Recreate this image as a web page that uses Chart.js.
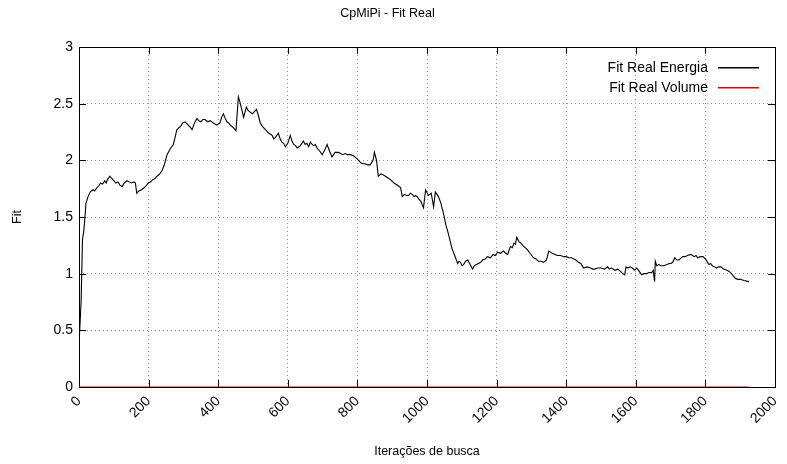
<!DOCTYPE html>
<html>
<head>
<meta charset="utf-8">
<script src="https://cdn.jsdelivr.net/npm/chart.js@4/dist/chart.umd.min.js"></script>
<style>
  html, body { margin: 0; padding: 0; background: #fff; }
  #wrap { width: 787px; height: 464px; }
</style>
</head>
<body>
<div id="wrap"><canvas id="myChart" width="787" height="464"></canvas></div>
<script>
// Values
const energiaIters = [0, 6, 10, 13, 16, 20, 26, 32, 40, 45, 52, 58, 62, 68, 74, 78, 82, 89, 94, 100, 106, 112, 118, 124, 130, 138, 144, 150, 158, 162, 166, 172, 180, 188, 194, 199, 206, 212, 218, 224, 232, 239, 246, 253, 262, 271, 276, 281, 288, 292, 298, 305, 314, 320, 325, 332, 339, 344, 350, 356, 362, 370, 377, 386, 396, 405, 410, 415, 420, 425, 430, 435, 443, 451, 458, 462, 466, 473, 481, 486, 490, 498, 504, 510, 515, 521, 527, 533, 539, 545, 550, 555, 560, 564, 573, 578, 583, 588, 593, 600, 607, 612, 617, 622, 627, 636, 645, 650, 655, 660, 665, 670, 674, 679, 684, 692, 699, 706, 713, 720, 727, 736, 745, 752, 758, 765, 771, 780, 789, 800, 809, 815, 822, 830, 837, 845, 849, 855, 860, 868, 875, 885, 895, 905, 915, 924, 929, 935, 941, 947, 952, 958, 963, 967, 972, 976, 982, 990, 996, 1004, 1012, 1019, 1024, 1033, 1040, 1048, 1055, 1059, 1064, 1068, 1072, 1076, 1082, 1088, 1092, 1096, 1101, 1105, 1111, 1117, 1124, 1131, 1136, 1142, 1148, 1154, 1160, 1167, 1174, 1182, 1190, 1196, 1203, 1211, 1220, 1226, 1232, 1236, 1240, 1245, 1250, 1254, 1258, 1265, 1270, 1275, 1282, 1289, 1296, 1306, 1313, 1320, 1328, 1335, 1343, 1350, 1355, 1360, 1368, 1375, 1384, 1393, 1400, 1408, 1415, 1422, 1428, 1435, 1442, 1450, 1460, 1470, 1476, 1482, 1490, 1500, 1510, 1519, 1524, 1530, 1535, 1540, 1548, 1556, 1562, 1568, 1572, 1577, 1584, 1590, 1597, 1603, 1610, 1617, 1624, 1630, 1638, 1646, 1650, 1654, 1656, 1660, 1666, 1671, 1680, 1690, 1696, 1701, 1706, 1712, 1718, 1724, 1730, 1735, 1742, 1748, 1758, 1763, 1768, 1773, 1778, 1786, 1793, 1800, 1810, 1815, 1820, 1826, 1832, 1838, 1845, 1852, 1862, 1868, 1875, 1880, 1886, 1893, 1900, 1911, 1925];
const energiaFit = [0.37, 0.75, 1.30, 1.36, 1.45, 1.62, 1.68, 1.72, 1.74, 1.73, 1.76, 1.78, 1.80, 1.79, 1.82, 1.80, 1.83, 1.86, 1.84, 1.82, 1.80, 1.81, 1.78, 1.77, 1.80, 1.82, 1.81, 1.80, 1.81, 1.80, 1.71, 1.73, 1.74, 1.76, 1.78, 1.80, 1.81, 1.83, 1.84, 1.86, 1.88, 1.91, 1.97, 2.05, 2.10, 2.14, 2.20, 2.27, 2.29, 2.30, 2.33, 2.34, 2.31, 2.29, 2.27, 2.33, 2.37, 2.35, 2.34, 2.36, 2.36, 2.34, 2.35, 2.33, 2.31, 2.33, 2.38, 2.41, 2.37, 2.34, 2.33, 2.31, 2.29, 2.26, 2.56, 2.52, 2.47, 2.38, 2.47, 2.44, 2.43, 2.41, 2.43, 2.45, 2.40, 2.33, 2.30, 2.28, 2.26, 2.24, 2.23, 2.22, 2.19, 2.20, 2.24, 2.19, 2.16, 2.15, 2.12, 2.15, 2.22, 2.17, 2.14, 2.13, 2.11, 2.13, 2.17, 2.14, 2.15, 2.12, 2.16, 2.14, 2.13, 2.14, 2.11, 2.08, 2.05, 2.09, 2.14, 2.08, 2.03, 2.07, 2.07, 2.06, 2.05, 2.06, 2.05, 2.05, 2.04, 2.01, 1.98, 1.97, 1.97, 1.96, 1.96, 2.00, 2.07, 2.00, 1.86, 1.88, 1.87, 1.85, 1.83, 1.80, 1.78, 1.76, 1.68, 1.70, 1.69, 1.69, 1.71, 1.70, 1.68, 1.69, 1.68, 1.66, 1.64, 1.58, 1.74, 1.69, 1.71, 1.59, 1.72, 1.68, 1.62, 1.52, 1.42, 1.38, 1.32, 1.27, 1.22, 1.19, 1.14, 1.09, 1.11, 1.10, 1.07, 1.08, 1.11, 1.12, 1.08, 1.04, 1.07, 1.08, 1.09, 1.10, 1.12, 1.13, 1.15, 1.14, 1.17, 1.16, 1.19, 1.18, 1.20, 1.18, 1.17, 1.21, 1.24, 1.23, 1.27, 1.26, 1.32, 1.28, 1.27, 1.25, 1.23, 1.21, 1.18, 1.14, 1.13, 1.11, 1.11, 1.10, 1.12, 1.20, 1.19, 1.18, 1.17, 1.16, 1.16, 1.15, 1.15, 1.14, 1.14, 1.13, 1.12, 1.10, 1.09, 1.05, 1.06, 1.05, 1.04, 1.04, 1.05, 1.05, 1.04, 1.06, 1.04, 1.05, 1.04, 1.03, 1.04, 1.02, 1.00, 0.99, 1.06, 1.05, 1.06, 1.05, 1.03, 1.05, 1.02, 0.99, 1.00, 1.00, 1.01, 1.01, 1.03, 0.93, 1.11, 1.07, 1.08, 1.07, 1.07, 1.08, 1.09, 1.09, 1.10, 1.14, 1.12, 1.12, 1.14, 1.15, 1.15, 1.16, 1.17, 1.16, 1.15, 1.16, 1.14, 1.15, 1.15, 1.13, 1.08, 1.09, 1.07, 1.06, 1.05, 1.06, 1.06, 1.04, 1.03, 1.02, 1.00, 0.98, 0.96, 0.95, 0.95, 0.94, 0.93];

const volumeIters = [0, 1925];
const volumeFit = [0, 0];

const seriesNames = ['Fit Real Energia', 'Fit Real Volume'];
const seriesColors = ['#000000', '#e00000'];

const xTicks = [0, 200, 400, 600, 800, 1000, 1200, 1400, 1600, 1800, 2000];
const yTicks = [0, 0.5, 1, 1.5, 2, 2.5, 3];

const FONT = '"Liberation Sans", Arial, Helvetica, sans-serif';
Chart.defaults.font.family = FONT;
Chart.defaults.font.size = 14;
Chart.defaults.color = '#000';

// frame, inward ticks and legend like gnuplot
const framePlugin = {
    id: 'frame',
    beforeDatasetsDraw(chart) {
        const { ctx, chartArea: a, scales } = chart;
        ctx.save();
        ctx.strokeStyle = '#000';
        ctx.lineWidth = 1;
        ctx.beginPath();
        xTicks.forEach(v => {
            const px = Math.round(scales.x.getPixelForValue(v)) + 0.5;
            ctx.moveTo(px, a.bottom); ctx.lineTo(px, a.bottom - 7);
            ctx.moveTo(px, a.top); ctx.lineTo(px, a.top + 7);
        });
        yTicks.forEach(v => {
            const py = Math.round(scales.y.getPixelForValue(v)) + 0.5;
            ctx.moveTo(a.left, py); ctx.lineTo(a.left + 7, py);
            ctx.moveTo(a.right, py); ctx.lineTo(a.right - 7, py);
        });
        ctx.stroke();
        ctx.strokeRect(Math.round(a.left) + 0.5, Math.round(a.top) + 0.5,
            Math.round(a.right - a.left), Math.round(a.bottom - a.top));
        ctx.restore();
    },
    afterDraw(chart) {
        const { ctx, chartArea: a } = chart;
        ctx.save();
        ctx.font = '14px ' + FONT;
        ctx.textAlign = 'right';
        ctx.textBaseline = 'middle';
        seriesNames.forEach((name, i) => {
            const y = Math.round(a.top + 21 + i * 20);
            ctx.fillStyle = '#000';
            ctx.fillText(name, a.right - 67, y);
            ctx.fillStyle = seriesColors[i];
            ctx.fillRect(a.right - 57, y - 1, 41, 1.5);
        });
        ctx.restore();
    }
};

const ctx = document.getElementById('myChart').getContext('2d');
const myChart = new Chart(ctx, {
    type: 'line',
    data: {
        datasets: [{
            label: seriesNames[0],
            data: energiaIters.map((x, i) => ({ x: x, y: energiaFit[i] })),
            borderColor: seriesColors[0],
            borderWidth: 1.1,
            pointRadius: 0,
            tension: 0,
            fill: false
        }, {
            label: seriesNames[1],
            data: volumeIters.map((x, i) => ({ x: x, y: volumeFit[i] })),
            borderColor: seriesColors[1],
            borderWidth: 1,
            pointRadius: 0,
            tension: 0,
            fill: false
        }]
    },
    options: {
        responsive: false,
        animation: false,
        layout: { padding: { left: 0, right: 12, top: 0, bottom: 0 } },
        plugins: {
            legend: { display: false },
            tooltip: { enabled: false },
            title: {
                display: true,
                text: 'CpMiPi - Fit Real',
                font: { size: 12.5, weight: 'normal' },
                color: '#000',
                padding: { top: 6.5, bottom: 25.5 }
            }
        },
        scales: {
            x: {
                type: 'linear',
                min: 0,
                max: 2000,
                afterBuildTicks: s => { s.ticks = xTicks.map(v => ({ value: v })); },
                afterFit: s => { s.height = 77; s.paddingLeft = 0; s.paddingRight = 0; },
                ticks: {
                    minRotation: 45,
                    maxRotation: 45,
                    padding: 6,
                    color: '#000',
                    callback: v => String(v)
                },
                grid: {
                    color: '#9a9a9a',
                    drawTicks: false
                },
                border: { display: false, dash: [1, 3] },
                title: {
                    display: true,
                    text: 'Iterações de busca',
                    font: { size: 12.5 },
                    color: '#000',
                    padding: { top: 0, bottom: 4.5 }
                }
            },
            y: {
                min: 0,
                max: 3,
                afterBuildTicks: s => { s.ticks = yTicks.map(v => ({ value: v })); },
                afterFit: s => { s.width = 79; s.paddingTop = 0; s.paddingBottom = 0; },
                ticks: {
                    padding: 6,
                    color: '#000',
                    callback: v => String(v)
                },
                grid: {
                    color: '#9a9a9a',
                    drawTicks: false
                },
                border: { display: false, dash: [1, 3] },
                title: {
                    display: true,
                    text: 'Fit',
                    font: { size: 12.5 },
                    color: '#000',
                    padding: { top: 10.5, bottom: 0 }
                }
            }
        }
    },
    plugins: [framePlugin]
});
</script>
</body>
</html>
